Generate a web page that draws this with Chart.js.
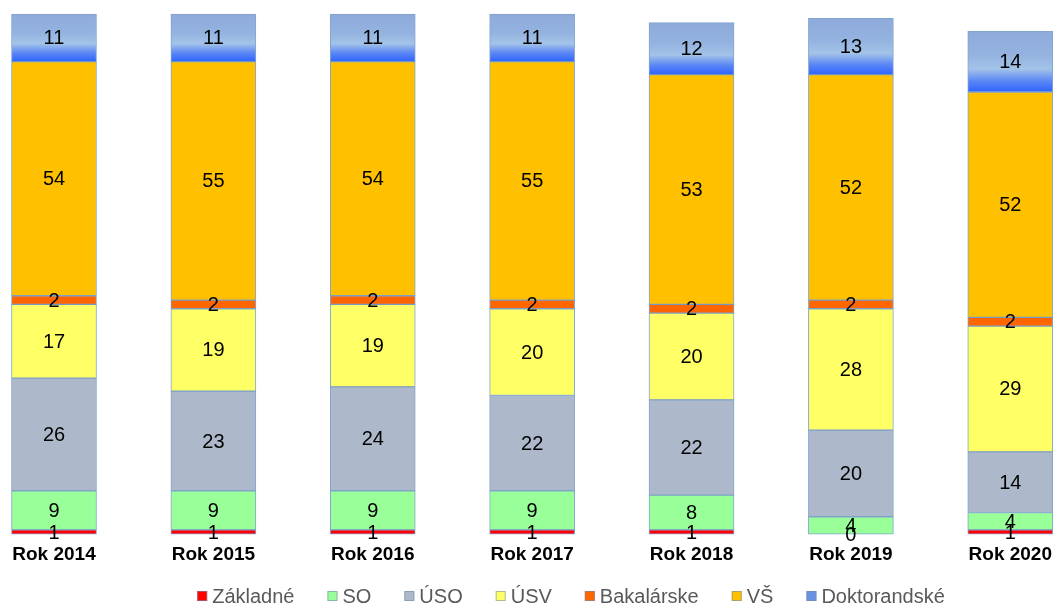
<!DOCTYPE html>
<html>
<head>
<meta charset="utf-8">
<script src="https://cdn.jsdelivr.net/npm/chart.js@4"></script>
<style>
  html, body { margin: 0; padding: 0; background: #fff; }
  #wrap { width: 1061px; height: 605px; }
</style>
</head>
<body>
<div id="wrap"><canvas id="chart"></canvas></div>
<script>
// ─── Data ────────────────────────────────────────────────────────────────────
const years        = ["Rok 2014", "Rok 2015", "Rok 2016", "Rok 2017", "Rok 2018", "Rok 2019", "Rok 2020"];
const zakladne     = [1, 1, 1, 1, 1, 0, 1];
const so           = [9, 9, 9, 9, 8, 4, 4];
const uso          = [26, 23, 24, 22, 22, 20, 14];
const usv          = [17, 19, 19, 20, 20, 28, 29];
const bakalarske   = [2, 2, 2, 2, 2, 2, 2];
const vs           = [54, 55, 54, 55, 53, 52, 52];
const doktorandske = [11, 11, 11, 11, 12, 13, 14];

const stack = [zakladne, so, uso, usv, bakalarske, vs, doktorandske];

const FONT = "'Liberation Sans', Arial, sans-serif";
const BORDER = "rgba(90,135,190,0.75)";

// ─── Helpers ─────────────────────────────────────────────────────────────────
function sumBelow(i, level) {
    let s = 0;
    for (let k = 0; k < level; k++) s += stack[k][i];
    return s;
}

// gradient fill for the top (Doktorandské) segment of each bar
function doktFill(ctx) {
    const chart = ctx.chart;
    const i = ctx.dataIndex;
    const y = chart.scales && chart.scales.y;
    if (i === undefined || !y || !chart.chartArea) return "#6a90e0";
    const base = sumBelow(i, 6);
    const y0 = y.getPixelForValue(base + doktorandske[i]);
    const y1 = y.getPixelForValue(base);
    const g = chart.ctx.createLinearGradient(0, y0, 0, y1);
    g.addColorStop(0,    "#8eaadb");
    g.addColorStop(0.4,  "#94b3e0");
    g.addColorStop(0.62, "#a3c3e8");
    g.addColorStop(0.82, "#5a86f5");
    g.addColorStop(1,    "#2f63ff");
    return g;
}

// ─── Value labels ────────────────────────────────────────────────────────────
const valueLabels = {
    id: "valueLabels",
    afterDatasetsDraw(chart) {
        const c = chart.ctx;
        c.save();
        c.font = "20px " + FONT;
        c.fillStyle = "#000";
        c.textAlign = "center";
        c.textBaseline = "middle";
        chart.data.datasets.forEach((ds, di) => {
            const meta = chart.getDatasetMeta(di);
            meta.data.forEach((el, i) => {
                c.fillText(String(ds.data[i]), el.x, (el.y + el.base) / 2 + 1);
            });
        });
        c.restore();
    }
};

// ─── Legend (drawn by hand so spacing matches) ───────────────────────────────
const bottomLegend = {
    id: "bottomLegend",
    afterDraw(chart) {
        const c = chart.ctx;
        const BOX = 10, GAP = 5, SPACING = 33, Y = 596, CENTER = 571;
        c.save();
        c.font = "20px " + FONT;
        c.textBaseline = "middle";
        const items = chart.data.datasets.map(ds => ({
            label: ds.label,
            color: ds.legendColor,
            w: c.measureText(ds.label).width
        }));
        const total = items.reduce((a, it) => a + BOX + GAP + it.w, 0) + SPACING * (items.length - 1);
        let x = CENTER - total / 2;
        items.forEach(it => {
            c.fillStyle = it.color;
            c.fillRect(x, Y - BOX / 2, BOX, BOX);
            c.strokeStyle = "rgba(120,140,170,0.6)";
            c.lineWidth = 1;
            c.strokeRect(x + 0.5, Y - BOX / 2 + 0.5, BOX - 1, BOX - 1);
            x += BOX + GAP;
            c.fillStyle = "#595959";
            c.fillText(it.label, x, Y + 1);
            x += it.w + SPACING;
        });
        c.restore();
    }
};

function ds(label, data, color, legendColor) {
    return {
        label,
        data,
        legendColor: legendColor || color,
        backgroundColor: color,
        borderColor: BORDER,
        borderWidth: 1,
        borderSkipped: false,
        barThickness: 85,
        clip: false
    };
}

new Chart(document.getElementById("chart"), {
    type: "bar",
    plugins: [valueLabels, bottomLegend],
    data: {
        labels: years,
        datasets: [
            ds("Základné",     zakladne,     "#ff0000"),
            ds("SO",           so,           "#99ff99"),
            ds("ÚSO",          uso,          "#adb9ca"),
            ds("ÚSV",          usv,          "#ffff66"),
            ds("Bakalárske",   bakalarske,   "#ff6600"),
            ds("VŠ",           vs,           "#ffc000"),
            ds("Doktorandské", doktorandske, doktFill, "#6a92e4")
        ]
    },
    options: {
        responsive: true,
        maintainAspectRatio: false,
        animation: false,
        layout: { padding: { top: 14, left: 54, right: 44, bottom: 30 } },
        scales: {
            x: {
                stacked: true,
                offset: false,
                grid: { display: false, drawTicks: false },
                border: { display: false },
                ticks: {
                    autoSkip: false,
                    maxRotation: 0,
                    padding: 9,
                    color: "#000",
                    font: { family: FONT, size: 19, weight: "bold" }
                }
            },
            y: {
                stacked: true,
                display: false,
                min: 0,
                max: 120
            }
        },
        plugins: {
            tooltip: { enabled: false },
            legend: { display: false }
        }
    }
});
</script>
</body>
</html>
